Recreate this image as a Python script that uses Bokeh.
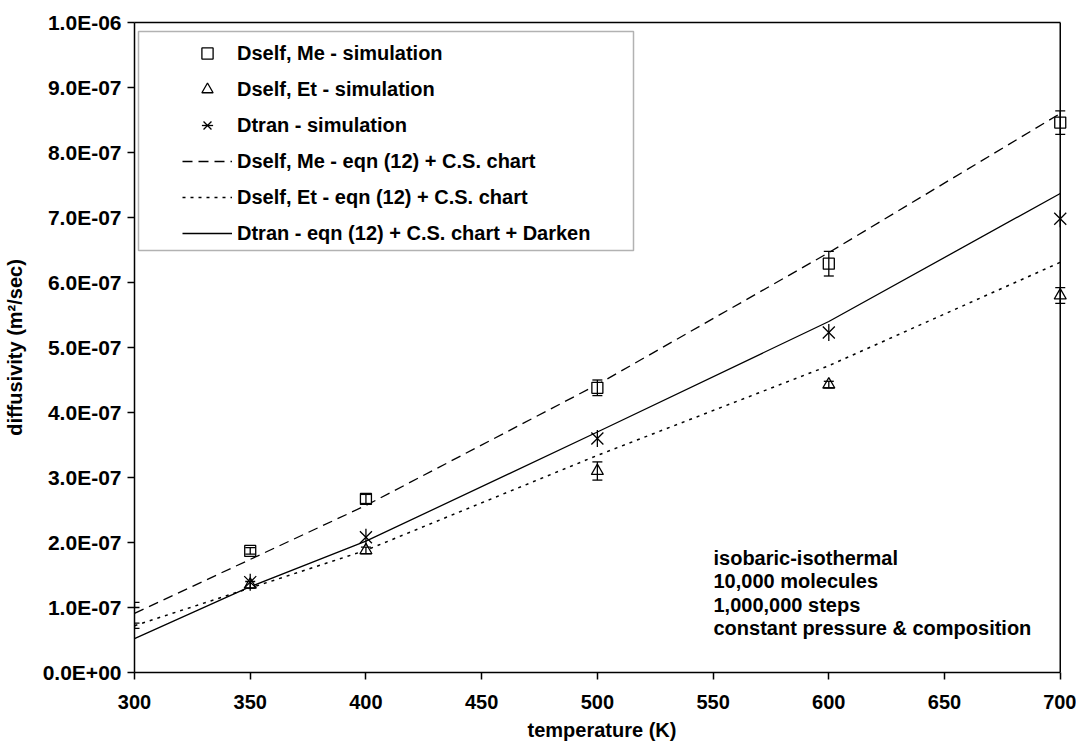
import numpy as np
from bokeh.plotting import figure
from bokeh.models import (FixedTicker, CustomJSTickFormatter, Legend, LegendItem, Whisker,
                          TeeHead, ColumnDataSource, BoxAnnotation, Label, Range1d,
                          LinearAxis, Span)
from bokeh.embed import file_html
from bokeh.resources import INLINE

# ---------------- data ----------------
temp_sim = [350, 400, 500, 600, 700]
dself_me_sim = [1.87e-7, 2.67e-7, 4.38e-7, 6.29e-7, 8.46e-7]
dself_et_sim = [1.35e-7, 1.88e-7, 3.10e-7, 4.43e-7, 5.80e-7]
dtran_sim = [1.39e-7, 2.08e-7, 3.60e-7, 5.23e-7, 6.98e-7]

temp_err = [300, 350, 400, 500, 600, 700]
me_err_center = [1.04e-7, 1.87e-7, 2.67e-7, 4.38e-7, 6.29e-7, 8.46e-7]
me_err_half = [0.04e-7, 0.05e-7, 0.07e-7, 0.12e-7, 0.19e-7, 0.18e-7]
et_err_center = [0.72e-7, 1.35e-7, 1.88e-7, 3.10e-7, 4.43e-7, 5.80e-7]
et_err_half = [0.04e-7, 0.05e-7, 0.05e-7, 0.14e-7, 0.05e-7, 0.12e-7]

temp_eqn = [300, 350, 400, 500, 600, 700]
dself_me_eqn = [0.91e-7, 1.74e-7, 2.57e-7, 4.43e-7, 6.46e-7, 8.60e-7]
dself_et_eqn = [0.72e-7, 1.30e-7, 1.88e-7, 3.34e-7, 4.72e-7, 6.31e-7]
dtran_eqn = [0.52e-7, 1.32e-7, 2.02e-7, 3.70e-7, 5.40e-7, 7.37e-7]

x_min, x_max = 300, 700
y_min, y_max = 0.0, 1e-6
x_ticks = [300, 350, 400, 450, 500, 550, 600, 650, 700]
y_ticks = [0.0, 1e-7, 2e-7, 3e-7, 4e-7, 5e-7, 6e-7, 7e-7, 8e-7, 9e-7, 1e-6]

x_title = "temperature (K)"
y_title = "diffusivity (m\u00b2/sec)"
legend_labels = ["Dself, Me - simulation", "Dself, Et - simulation", "Dtran - simulation",
                 "Dself, Me - eqn (12) + C.S. chart", "Dself, Et - eqn (12) + C.S. chart",
                 "Dtran - eqn (12) + C.S. chart + Darken"]
note_lines = ["isobaric-isothermal", "10,000 molecules", "1,000,000 steps",
              "constant pressure & composition"]

FONT = "Liberation Sans"

# ---------------- figure ----------------
p = figure(width=1076, height=747, output_backend="svg", toolbar_location=None,
           x_range=Range1d(x_min, x_max + 4), y_range=Range1d(y_min, y_max),
           min_border_left=134, min_border_right=7, min_border_top=22, min_border_bottom=75)
p.grid.visible = False
p.outline_line_color = None
p.background_fill_color = "white"
p.border_fill_color = "white"

xax = p.below[0]
yax = p.left[0]

top_axis = LinearAxis(ticker=FixedTicker(ticks=[]), bounds=(x_min, x_max))
p.add_layout(top_axis, "above")

for ax in (xax, yax, top_axis):
    ax.axis_line_color = "black"
    ax.axis_line_width = 1.5
    ax.major_tick_line_color = "black"
    ax.major_tick_line_width = 1.5
    ax.major_tick_in = 0
    ax.major_tick_out = 7
    ax.minor_tick_line_color = None
    ax.major_label_text_font = FONT
    ax.major_label_text_font_style = "bold"
    ax.major_label_text_font_size = "20px"
    ax.major_label_text_color = "black"
    ax.axis_label_text_font = FONT
    ax.axis_label_text_font_style = "bold"
    ax.axis_label_text_font_size = "20px"
    ax.axis_label_text_color = "black"
top_axis.major_label_text_font_size = "0px"
top_axis.major_label_standoff = 0
top_axis.major_tick_out = 0

yax.major_label_text_font_size = "21px"

xax.ticker = FixedTicker(ticks=x_ticks)
xax.bounds = (x_min, x_max)
yax.ticker = FixedTicker(ticks=y_ticks)
yax.formatter = CustomJSTickFormatter(code="""
    const s = tick.toExponential(1);
    const parts = s.split('e');
    const e = parts[1];
    const sign = e[0];
    let digits = e.slice(1);
    if (digits.length < 2) digits = '0' + digits;
    return parts[0] + 'E' + sign + digits;
""")
xax.axis_label = x_title
yax.axis_label = y_title
xax.major_label_standoff = 15
xax.axis_label_standoff = 7
yax.major_label_standoff = 6
yax.axis_label_standoff = 14

p.add_layout(Span(location=x_max, dimension="height", line_color="black", line_width=1.5))

# ---------------- model lines ----------------
r_me_eqn = p.line(temp_eqn, dself_me_eqn, line_color="black", line_width=1.3, line_dash="10 6")
r_et_eqn = p.line(temp_eqn, dself_et_eqn, line_color="black", line_width=1.5, line_dash="3 5")
r_tr_eqn = p.line(temp_eqn, dtran_eqn, line_color="black", line_width=1.3)

# ---------------- error bars ----------------
me_src = ColumnDataSource(dict(x=temp_err,
                               upper=[c + h for c, h in zip(me_err_center, me_err_half)],
                               lower=[c - h for c, h in zip(me_err_center, me_err_half)]))
et_src = ColumnDataSource(dict(x=temp_err,
                               upper=[c + h for c, h in zip(et_err_center, et_err_half)],
                               lower=[c - h for c, h in zip(et_err_center, et_err_half)]))
for src in (me_src, et_src):
    w = Whisker(base="x", upper="upper", lower="lower", source=src,
                line_color="black", line_width=1.3,
                upper_head=TeeHead(size=10, line_color="black", line_width=1.3),
                lower_head=TeeHead(size=10, line_color="black", line_width=1.3))
    w.level = "glyph"
    p.add_layout(w)

# ---------------- simulation markers ----------------
r_me = p.scatter(temp_sim, dself_me_sim, marker="square", size=11,
                 line_color="black", line_width=1.3, fill_color="white")
r_et = p.scatter(temp_sim, dself_et_sim, marker="triangle", size=12,
                 line_color="black", line_width=1.3, fill_color="white")
r_tr_x = p.scatter(temp_sim, dtran_sim, marker="x", size=17,
                   line_color="black", line_width=1.3)
r_tr_v = p.scatter(temp_sim, dtran_sim, marker="dash", size=17, angle=np.pi / 2,
                   line_color="black", line_width=1.3)

# ---------------- legend ----------------
frame_box = BoxAnnotation(left=4, right=499, top=641, bottom=422,
                          left_units="screen", right_units="screen",
                          top_units="screen", bottom_units="screen",
                          fill_color="white", fill_alpha=1.0,
                          line_color="black", line_width=1.5)
p.add_layout(frame_box)

items = [LegendItem(label=legend_labels[0], renderers=[r_me]),
         LegendItem(label=legend_labels[1], renderers=[r_et]),
         LegendItem(label=legend_labels[2], renderers=[r_tr_x, r_tr_v]),
         LegendItem(label=legend_labels[3], renderers=[r_me_eqn]),
         LegendItem(label=legend_labels[4], renderers=[r_et_eqn]),
         LegendItem(label=legend_labels[5], renderers=[r_tr_eqn])]
legend = Legend(items=items, location=(48, 425), padding=0, margin=0, spacing=8,
                label_height=28, glyph_height=28, glyph_width=50, label_standoff=5,
                border_line_color=None, background_fill_alpha=0.0,
                label_text_font=FONT, label_text_font_style="bold",
                label_text_font_size="20px", label_text_color="black")
p.add_layout(legend, "center")

# ---------------- note ----------------
for i, line in enumerate(note_lines):
    p.add_layout(Label(x=579, y=115 - i * 23.5, x_units="screen", y_units="screen",
                       text=line, text_font=FONT, text_font_style="bold",
                       text_font_size="20px", text_color="black", text_baseline="middle"))

open("out.html", "w").write(file_html(p, INLINE))
